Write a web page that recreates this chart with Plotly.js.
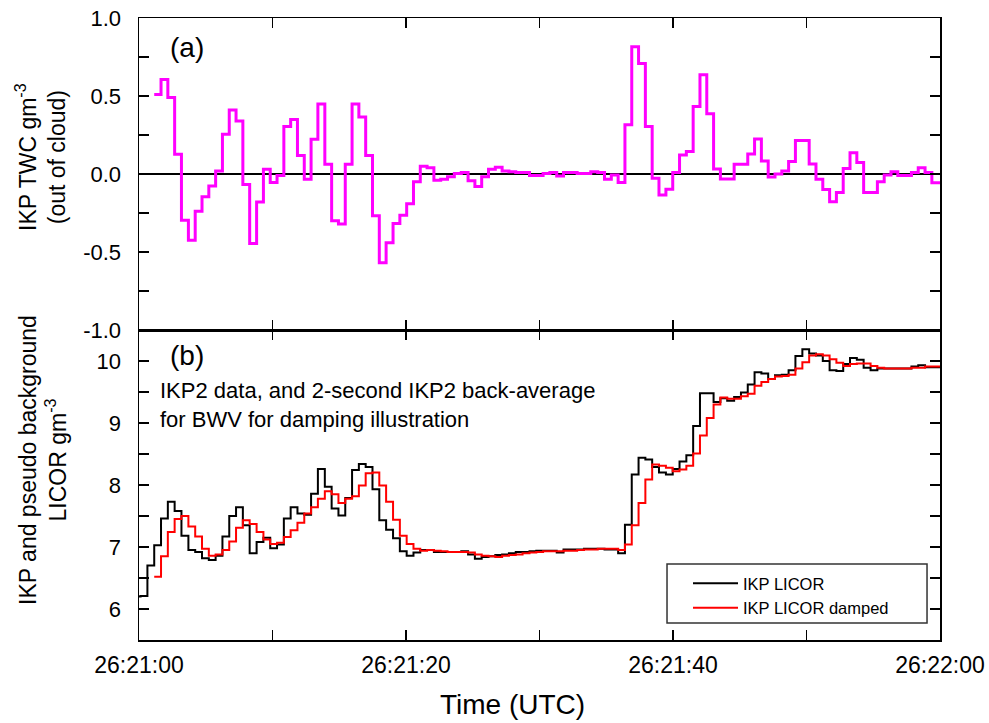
<!DOCTYPE html>
<html>
<head>
<meta charset="utf-8">
<script src="https://cdn.plot.ly/plotly-3.0.1.min.js"></script>
<style>html,body{margin:0;padding:0;background:#fff;}#chart{width:989px;height:723px;}</style>
</head>
<body>
<div id="chart"></div>
<script>
// Sample start times, seconds after 26:21:00 (IKP2 sampling, ~0.51 s)
const timeSec = [-0.39, 0.12, 0.63,
  1.14, 1.65, 2.16, 2.67, 3.18, 3.70, 4.21, 4.72, 5.23, 5.74,
  6.25, 6.76, 7.27, 7.78, 8.29, 8.81, 9.32, 9.83, 10.34, 10.85,
  11.36, 11.87, 12.38, 12.89, 13.40, 13.92, 14.43, 14.94, 15.45, 15.96,
  16.47, 16.98, 17.49, 18.00, 18.51, 19.03, 19.54, 20.05, 20.56, 21.07,
  21.58, 22.09, 22.60, 23.11, 23.62, 24.14, 24.65, 25.16, 25.67, 26.18,
  26.69, 27.20, 27.71, 28.22, 28.73, 29.25, 29.76, 30.27, 30.78, 31.29,
  31.80, 32.31, 32.82, 33.33, 33.84, 34.36, 34.87, 35.38, 35.89, 36.40,
  36.91, 37.42, 37.93, 38.44, 38.95, 39.47, 39.98, 40.49, 41.00, 41.51,
  42.02, 42.53, 43.04, 43.55, 44.06, 44.58, 45.09, 45.60, 46.11, 46.62,
  47.13, 47.64, 48.15, 48.66, 49.17, 49.69, 50.20, 50.71, 51.22, 51.73,
  52.24, 52.75, 53.26, 53.77, 54.28, 54.80, 55.31, 55.82, 56.33, 56.84,
  57.35, 57.86, 58.37, 58.88, 59.39, 59.91, 60.42];

// IKP LICOR (black), one value per entry of timeSec
const ikpLicor = [6.20, 6.21, 6.70,
  7.03, 7.46, 7.73, 7.58, 7.18, 6.95, 6.92, 6.82, 6.79, 6.86,
  7.17, 7.50, 7.64, 7.35, 6.90, 7.08, 7.15, 6.98, 7.04, 7.46,
  7.64, 7.54, 7.52, 7.86, 8.26, 7.97, 7.62, 7.51, 7.79, 8.24,
  8.34, 8.29, 7.93, 7.43, 7.28, 7.14, 6.93, 6.86, 6.91, 6.95,
  6.95, 6.92, 6.92, 6.92, 6.92, 6.93, 6.88, 6.81, 6.84, 6.85,
  6.87, 6.88, 6.90, 6.92, 6.92, 6.93, 6.94, 6.94, 6.94, 6.91,
  6.96, 6.96, 6.96, 6.97, 6.97, 6.97, 6.96, 6.96, 6.90, 7.36,
  8.17, 8.44, 8.41, 8.29, 8.20, 8.17, 8.26, 8.38, 8.48, 8.95,
  9.48, 9.48, 9.34, 9.40, 9.36, 9.42, 9.49, 9.62, 9.82, 9.80,
  9.71, 9.77, 9.78, 9.85, 10.08, 10.19, 10.12, 10.09, 10.00, 9.85,
  9.84, 9.95, 10.05, 10.02, 9.89, 9.85, 9.88, 9.88, 9.88, 9.88,
  9.88, 9.91, 9.93, 9.90, 9.90, 9.90, 9.90];

// IKP LICOR damped (red), starts at the 4th entry of timeSec
const ikpLicorDamped = [
  6.52, 6.85, 7.24, 7.45, 7.50, 7.33, 7.17, 6.97, 6.86, 6.88,
  6.95, 7.09, 7.31, 7.43, 7.37, 7.24, 7.12, 7.05, 7.07, 7.16,
  7.27, 7.39, 7.54, 7.64, 7.78, 7.90, 7.85, 7.71, 7.78, 7.82,
  7.99, 8.19, 8.20, 7.99, 7.73, 7.44, 7.18, 7.05, 6.97, 6.94,
  6.95, 6.94, 6.93, 6.92, 6.92, 6.92, 6.91, 6.88, 6.86, 6.85,
  6.84, 6.86, 6.87, 6.88, 6.90, 6.91, 6.92, 6.93, 6.93, 6.93,
  6.94, 6.94, 6.95, 6.96, 6.96, 6.97, 6.97, 6.97, 6.95, 7.04,
  7.35, 7.71, 8.09, 8.33, 8.31, 8.28, 8.22, 8.25, 8.31, 8.51,
  8.80, 9.08, 9.30, 9.41, 9.39, 9.39, 9.43, 9.47, 9.60, 9.66,
  9.71, 9.75, 9.76, 9.78, 9.88, 9.98, 10.09, 10.11, 10.09, 10.03,
  9.97, 9.92, 9.95, 9.96, 9.96, 9.92, 9.89, 9.88, 9.88, 9.88,
  9.88, 9.89, 9.89, 9.91, 9.91, 9.91, 9.91];

// IKP TWC out of cloud (magenta), same times as the damped series
const ikpTwc = [
  0.51, 0.605, 0.49, 0.127, -0.296, -0.425, -0.238, -0.146, -0.077, 0.02,
  0.255, 0.41, 0.34, -0.067, -0.446, -0.18, 0.03, -0.054, -0.01, 0.305,
  0.35, 0.118, -0.034, 0.223, 0.448, 0.062, -0.30, -0.32, 0.062, 0.448,
  0.365, 0.118, -0.268, -0.569, -0.44, -0.318, -0.264, -0.19, -0.05, 0.05,
  0.04, -0.04, -0.034, -0.017, 0.004, 0.01, -0.043, -0.08, -0.017, 0.03,
  0.043, 0.02, 0.015, 0.01, 0.01, -0.01, -0.01, 0.004, 0.009, -0.013,
  0.01, 0.01, 0.004, 0.004, 0.015, 0.01, -0.034, -0.006, -0.054, 0.316,
  0.815, 0.708, 0.305, -0.028, -0.135, -0.097, 0.01, 0.122, 0.144, 0.433,
  0.637, 0.386, 0.032, -0.032, -0.032, 0.062, 0.062, 0.129, 0.225, 0.084,
  -0.02, 0.0, 0.02, 0.08, 0.215, 0.215, 0.064, -0.034, -0.1, -0.178,
  -0.118, 0.036, 0.137, 0.073, -0.118, -0.118, -0.05, -0.006, 0.015, -0.01,
  -0.01, 0.01, 0.04, 0.01, -0.056, -0.056, -0.056];

// Tick labels
const xTickVals = [0, 20, 40, 60];
const xTickText = ['26:21:00', '26:21:20', '26:21:40', '26:22:00'];
const xMinorVals = [10, 30, 50];
const twcTickVals = [-1, -0.5, 0, 0.5, 1];
const twcTickText = ['-1.0', '-0.5', '0.0', '0.5', '1.0'];
const twcMinorVals = [-0.75, -0.25, 0.25, 0.75];
const licorTickVals = [6, 7, 8, 9, 10];
const licorTickText = ['6', '7', '8', '9', '10'];
const licorMinorVals = [5.5, 6.5, 7.5, 8.5, 9.5, 10.5];

const FONT = 'Arial, "Liberation Sans", sans-serif';
const damperTimes = timeSec.slice(timeSec.length - ikpLicorDamped.length);

const traces = [
  {x: damperTimes, y: ikpTwc, xaxis: 'x2', yaxis: 'y2', type: 'scatter', mode: 'lines',
   line: {shape: 'hv', color: '#FF00FF', width: 3}, showlegend: false, name: 'IKP TWC'},
  {x: timeSec, y: ikpLicor, xaxis: 'x', yaxis: 'y', type: 'scatter', mode: 'lines',
   line: {shape: 'hv', color: '#000000', width: 2}, name: 'IKP LICOR'},
  {x: damperTimes, y: ikpLicorDamped, xaxis: 'x', yaxis: 'y', type: 'scatter', mode: 'lines',
   line: {shape: 'hv', color: '#FF0000', width: 2}, name: 'IKP LICOR damped'}
];

const tickStyle = {ticks: 'inside', ticklen: 10, tickwidth: 1.5, tickcolor: '#000'};
const minorStyle = {ticks: 'inside', ticklen: 10, tickwidth: 1.5, tickcolor: '#000', showgrid: false};
const frame = {showline: true, linewidth: 1.5, linecolor: '#000', mirror: 'allticks', showgrid: false};

const splitY = 310 / 622;

const layout = {
  width: 989, height: 723,
  margin: {l: 139, r: 49, t: 18, b: 83},
  paper_bgcolor: '#fff', plot_bgcolor: '#fff',
  font: {family: FONT, color: '#000', size: 22},
  xaxis: Object.assign({domain: [0, 1], anchor: 'y', range: [0, 60], tickmode: 'array',
    tickvals: xTickVals, ticktext: xTickText, zeroline: false, ticklabelstandoff: 4,
    tickfont: {size: 23},
    minor: Object.assign({tickmode: 'array', tickvals: xMinorVals}, minorStyle)}, tickStyle, frame),
  xaxis2: Object.assign({domain: [0, 1], anchor: 'y2', range: [0, 60], matches: 'x',
    tickmode: 'array', tickvals: xTickVals, showticklabels: false, zeroline: false,
    minor: Object.assign({tickmode: 'array', tickvals: xMinorVals}, minorStyle)}, tickStyle, frame),
  yaxis: Object.assign({domain: [0, splitY], anchor: 'x', range: [5.5, 10.5], tickmode: 'array',
    tickvals: licorTickVals, ticktext: licorTickText, zeroline: false, ticklabelstandoff: 12,
    tickfont: {size: 22},
    minor: Object.assign({tickmode: 'array', tickvals: licorMinorVals}, minorStyle)},
    tickStyle, frame),
  yaxis2: Object.assign({domain: [splitY, 1], anchor: 'x2', range: [-1, 1], tickmode: 'array',
    tickvals: twcTickVals, ticktext: twcTickText, ticklabelstandoff: 12,
    tickfont: {size: 22},
    zeroline: true, zerolinecolor: '#000', zerolinewidth: 1.5,
    minor: Object.assign({tickmode: 'array', tickvals: twcMinorVals}, minorStyle)},
    tickStyle, frame),
  showlegend: true,
  legend: {x: 0.6854, y: 0.119, xanchor: 'left', yanchor: 'top', bgcolor: 'rgba(0,0,0,0)',
    borderwidth: 0, font: {size: 16.5}, itemwidth: 45, tracegroupgap: 0},
  shapes: [
    {type: 'rect', xref: 'paper', yref: 'paper', x0: 0.6592, x1: 0.9838, y0: 0.0273, y1: 0.1222,
     line: {color: '#333', width: 1.5}, fillcolor: 'rgba(0,0,0,0)'}
  ],
  annotations: [
    // axis titles
    {text: 'Time (UTC)', xref: 'paper', yref: 'paper', x: 0.4657, y: -0.1045,
     xanchor: 'center', yanchor: 'middle', showarrow: false, font: {size: 28}},
    {text: 'IKP TWC gm<sup>-3</sup><br>(out of cloud)', xref: 'paper', yref: 'paper',
     x: -0.1224, y: 0.7765, xanchor: 'center', yanchor: 'middle', textangle: -90,
     showarrow: false, font: {size: 23}},
    {text: 'IKP and pseudo background<br>LICOR gm<sup>-3</sup>', xref: 'paper', yref: 'paper',
     x: -0.1199, y: 0.2894, xanchor: 'center', yanchor: 'middle', textangle: -90,
     showarrow: false, font: {size: 23}},
    // panel labels and note
    {text: '(a)', xref: 'paper', yref: 'paper', x: 0.0599, y: 0.9518, xanchor: 'center', yanchor: 'middle',
     showarrow: false, font: {size: 28}},
    {text: '(b)', xref: 'paper', yref: 'paper', x: 0.0599, y: 0.4566, xanchor: 'center', yanchor: 'middle',
     showarrow: false, font: {size: 28}},
    {text: 'IKP2 data, and 2-second IKP2 back-average<br>for BWV for damping illustration',
     xref: 'paper', yref: 'paper', x: 0.0233, y: 0.4244, xanchor: 'left', yanchor: 'top', align: 'left',
     showarrow: false, font: {size: 22}}
  ]
};

Plotly.newPlot('chart', traces, layout, {staticPlot: true, displayModeBar: false});
</script>
</body>
</html>
